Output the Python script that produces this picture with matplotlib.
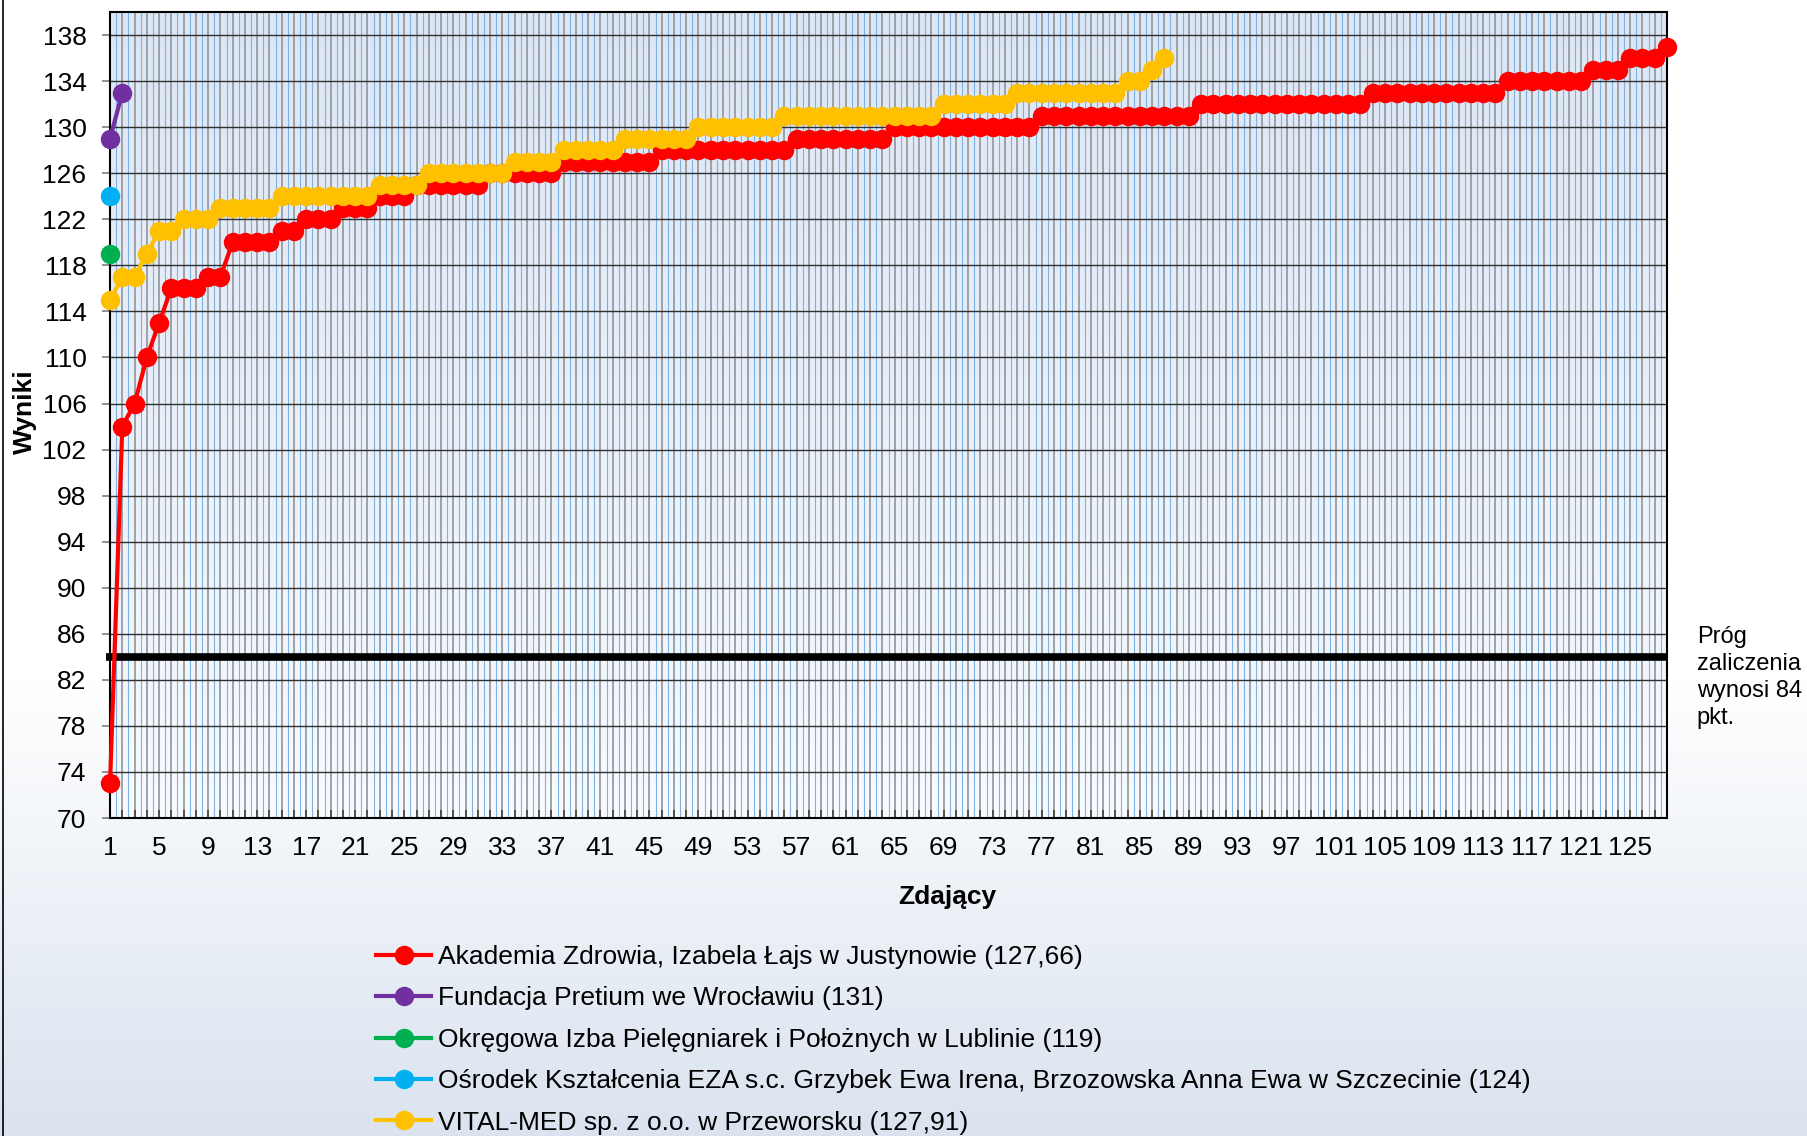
import numpy as np
import matplotlib
matplotlib.use("Agg")
from matplotlib import pyplot as plt
from matplotlib.lines import Line2D

plt.rcParams['font.family'] = ['Liberation Sans', 'DejaVu Sans']

# wyniki zdajacych (posortowane rosnaco) dla kazdego organizatora
akademia = [73, 104, 106, 110, 113, 116, 116, 116, 117, 117,
            120, 120, 120, 120, 121, 121, 122, 122, 122, 123,
            123, 123, 124, 124, 124, 125, 125, 125, 125, 125,
            125, 126, 126, 126, 126, 126, 126, 127, 127, 127,
            127, 127, 127, 127, 127, 128, 128, 128, 128, 128,
            128, 128, 128, 128, 128, 128, 129, 129, 129, 129,
            129, 129, 129, 129, 130, 130, 130, 130, 130, 130,
            130, 130, 130, 130, 130, 130, 131, 131, 131, 131,
            131, 131, 131, 131, 131, 131, 131, 131, 131, 132,
            132, 132, 132, 132, 132, 132, 132, 132, 132, 132,
            132, 132, 132, 133, 133, 133, 133, 133, 133, 133,
            133, 133, 133, 133, 134, 134, 134, 134, 134, 134,
            134, 135, 135, 135, 136, 136, 136, 137]
pretium = [129, 133]
okregowa = [119]
eza = [124]
vital = [115, 117, 117, 119, 121, 121, 122, 122, 122, 123,
         123, 123, 123, 123, 124, 124, 124, 124, 124, 124,
         124, 124, 125, 125, 125, 125, 126, 126, 126, 126,
         126, 126, 126, 127, 127, 127, 127, 128, 128, 128,
         128, 128, 129, 129, 129, 129, 129, 129, 130, 130,
         130, 130, 130, 130, 130, 131, 131, 131, 131, 131,
         131, 131, 131, 131, 131, 131, 131, 131, 132, 132,
         132, 132, 132, 132, 133, 133, 133, 133, 133, 133,
         133, 133, 133, 134, 134, 135, 136]

names = ['Akademia Zdrowia, Izabela Łajs w Justynowie (127,66)',
         'Fundacja Pretium we Wrocławiu (131)',
         'Okręgowa Izba Pielęgniarek i Położnych w Lublinie (119)',
         'Ośrodek Kształcenia EZA s.c. Grzybek Ewa Irena, Brzozowska Anna Ewa w Szczecinie (124)',
         'VITAL-MED sp. z o.o. w Przeworsku (127,91)']
colors = ['#FF0000', '#7030A0', '#00B050', '#00B0F0', '#FFC000']
threshold = 84
y_ticks = list(range(70, 139, 4))

n = len(akademia)
x_pos = np.arange(1, n + 1)
x_labels = [str(i) if (i - 1) % 4 == 0 else '' for i in x_pos]

fs = 19

fig = plt.figure(figsize=(18.07, 11.36), dpi=100)

# tlo calego wykresu - gradient od bialego do jasnoniebieskiego
bg = fig.add_axes([0, 0, 1, 1], zorder=-1)
bg.axis('off')
t = np.linspace(0, 1, 400)
w = np.clip((t - 0.6) / 0.4, 0, 1)
top_c = np.array([1.0, 1.0, 1.0])
bot_c = np.array([0.855, 0.890, 0.937])
grad = top_c[None, :] * (1 - w[:, None]) + bot_c[None, :] * w[:, None]
bg.imshow(grad[:, None, :], aspect='auto', extent=[0, 1, 0, 1])
fig.add_artist(Line2D([0.0017, 0.0017], [0, 1], color='black', lw=1.2))

ax = fig.add_axes([0.0609, 0.2799, 0.8616, 0.7095])

# tlo obszaru wykresu
t2 = np.linspace(0, 1, 400)
c_top = np.array([0.866, 0.902, 0.957])
c_bot = np.array([0.970, 0.980, 0.995])
grad2 = c_top[None, :] * (1 - t2[:, None]) + c_bot[None, :] * t2[:, None]
ax.imshow(grad2[:, None, :], aspect='auto', extent=[1, n, 70, 140], zorder=0)

ax.hlines(threshold, 0.7, n, color='black', lw=5.5, clip_on=False, zorder=2.5)

series = [akademia, pretium, okregowa, eza, vital]
for vals, col, name in zip(series, colors, names):
    ax.plot(np.arange(1, len(vals) + 1), vals, color=col, lw=3, marker='o',
            ms=13, mec=col, mfc=col, clip_on=False, zorder=3, label=name)

ax.set_xlim(1, n)
ax.set_ylim(70, 140)
ax.set_xticks(x_pos, x_labels)
ax.set_xticks(x_pos[:-1] + 0.5, minor=True)
ax.set_yticks(y_ticks)
ax.grid(axis='x', which='major', color='#979ca3', lw=1.3)
ax.grid(axis='x', which='minor', color='#7fb2e0', lw=0.8)
ax.grid(axis='y', which='major', color='#303030', lw=1.0)
ax.tick_params(axis='x', which='major', direction='in', length=6, width=1.2,
               color='#404040', labelsize=fs, pad=13)
ax.tick_params(axis='x', which='minor', length=0)
ax.tick_params(axis='y', direction='out', length=6, width=1.2, color='#7f7f7f',
               labelsize=fs, pad=11)
for s in ax.spines.values():
    s.set_color('black')
    s.set_linewidth(1.5)

fig.text(0.524, 0.2107, 'Zdający', ha='center', va='center', fontsize=fs, fontweight='bold')
fig.text(0.0140, 0.638, 'Wyniki', rotation=90, ha='center', va='center',
         fontsize=fs, fontweight='bold')
fig.text(0.939, 0.449, 'Próg\nzaliczenia\nwynosi %d\npkt.' % threshold, ha='left', va='top',
         fontsize=17, linespacing=1.3)

fig.legend(loc='upper left', bbox_to_anchor=(376 / 1807, 1 - 945 / 1136), frameon=False,
           fontsize=fs, handlelength=2.1, handletextpad=0.25, labelspacing=0.66,
           borderpad=0, borderaxespad=0)

fig.savefig('out.png', dpi=100)
